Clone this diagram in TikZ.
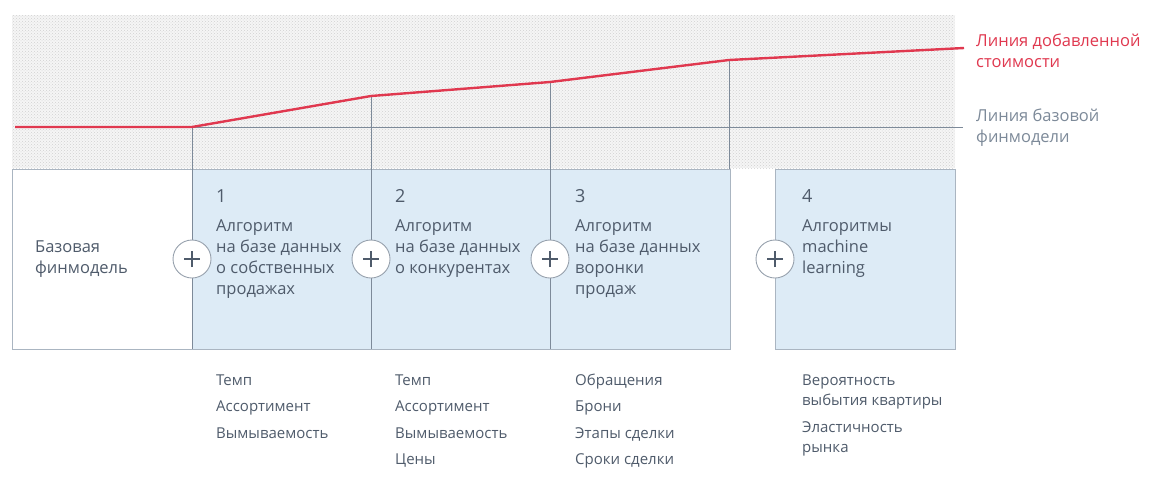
\documentclass[tikz,border=0pt]{standalone}
\usepackage{fontspec}
\setmainfont{Open Sans}
\usetikzlibrary{patterns}
\definecolor{redline}{HTML}{E0384F}
\definecolor{slate}{HTML}{7D8A99}
\definecolor{boxedge}{HTML}{AAB5C1}
\definecolor{txt}{HTML}{4F5B6B}
\definecolor{bluefill}{HTML}{DDEBF6}
\definecolor{texture}{HTML}{F5F5F5}
\tikzset{
  boxtext/.style={anchor=base west, inner sep=0pt, align=left, text=txt,
    font=\fontsize{16.5}{21}\selectfont},
  listtext/.style={anchor=base west, inner sep=0pt, align=left, text=txt,
    font=\fontsize{15}{20}\selectfont},
  listwide/.style={listtext, font=\fontsize{15}{26.5}\selectfont},
  numtext/.style={anchor=base west, inner sep=0pt, text=txt,
    font=\fontsize{18}{20}\selectfont},
  bluebox/.style={fill=bluefill, draw=boxedge, line width=0.9pt},
  divider/.style={draw=slate, line width=1pt},
  plusc/.style={circle, draw=slate!80, fill=white, line width=0.9pt,
    minimum size=38pt, inner sep=0pt},
}
\begin{document}
\begin{tikzpicture}[x=1pt, y=-1pt]
\useasboundingbox[fill=white] (0,0) rectangle (1161,488);
% textured background
\fill[texture] (12,15) rectangle (955,168);
\fill[pattern=crosshatch dots, pattern color=black!18] (12,15) rectangle (955,168);
% boxes
\draw[fill=white, draw=boxedge, line width=0.9pt] (12,169) rectangle (192,349);
\draw[bluebox] (192,169) rectangle (730,349);
\draw[bluebox] (775,169) rectangle (955,349);
% coordinates of the value line
\coordinate (r0) at (15,127);
\coordinate (r1) at (192,127);
\coordinate (r2) at (371,96);
\coordinate (r3) at (550,82);
\coordinate (r4) at (729,60);
\coordinate (r5) at (964,48);
\coordinate (g1) at (963,127);
\coordinate (b1) at (192,349);
\coordinate (b2) at (371,349);
\coordinate (b3) at (550,349);
\coordinate (b4) at (729,169);
% base line
\draw[divider] (r1) -- (g1);
% vertical dividers
\draw[divider] (r1) -- (b1);
\draw[divider] (r2) -- (b2);
\draw[divider] (r3) -- (b3);
\draw[divider] (r4) -- (b4);
% value line
\draw[redline, line width=2.4pt, line join=round] (r0) -- (r1) -- (r2) -- (r3) -- (r4) -- (r5);
% plus circles
\foreach \n/\x in {p1/192, p2/371, p3/550, p4/775} {
  \node[plusc] (\n) at (\x,259) {};
  \draw[txt, line width=2pt] ([xshift=-8pt]\n.center) -- ([xshift=8pt]\n.center);
  \draw[txt, line width=2pt] ([yshift=-8pt]\n.center) -- ([yshift=8pt]\n.center);
}
% right labels
\node[boxtext, text=redline] (lab1) at (976,67) {Линия добавленной\\стоимости};
\node[boxtext, text=slate] (lab2) at (976,142) {Линия базовой\\финмодели};
% box texts
\node[boxtext] (t0) at (35,273) {Базовая\\финмодель};
\node[numtext] (n1) at (216,202) {1};
\node[boxtext] (t1) at (216,294) {Алгоритм\\на базе данных\\о собственных\\продажах};
\node[numtext] (n2) at (395,202) {2};
\node[boxtext] (t2) at (395,273) {Алгоритм\\на базе данных\\о конкурентах};
\node[numtext] (n3) at (575,202) {3};
\node[boxtext] (t3) at (575,294) {Алгоритм\\на базе данных\\воронки\\продаж};
\node[numtext] (n4) at (802,202) {4};
\node[boxtext] (t4) at (802,273) {Алгоритмы\\machine\\learning};
% lists
\node[listwide] (l1) at (216,438) {Темп\\Ассортимент\\Вымываемость};
\node[listwide] (l2) at (395,464.5) {Темп\\Ассортимент\\Вымываемость\\Цены};
\node[listwide] (l3) at (575,464.5) {Обращения\\Брони\\Этапы сделки\\Сроки сделки};
\node[listtext] (l4a) at (802,405) {Вероятность\\выбытия квартиры};
\node[listtext] (l4b) at (802,452) {Эластичность\\рынка};
\end{tikzpicture}
\end{document}
